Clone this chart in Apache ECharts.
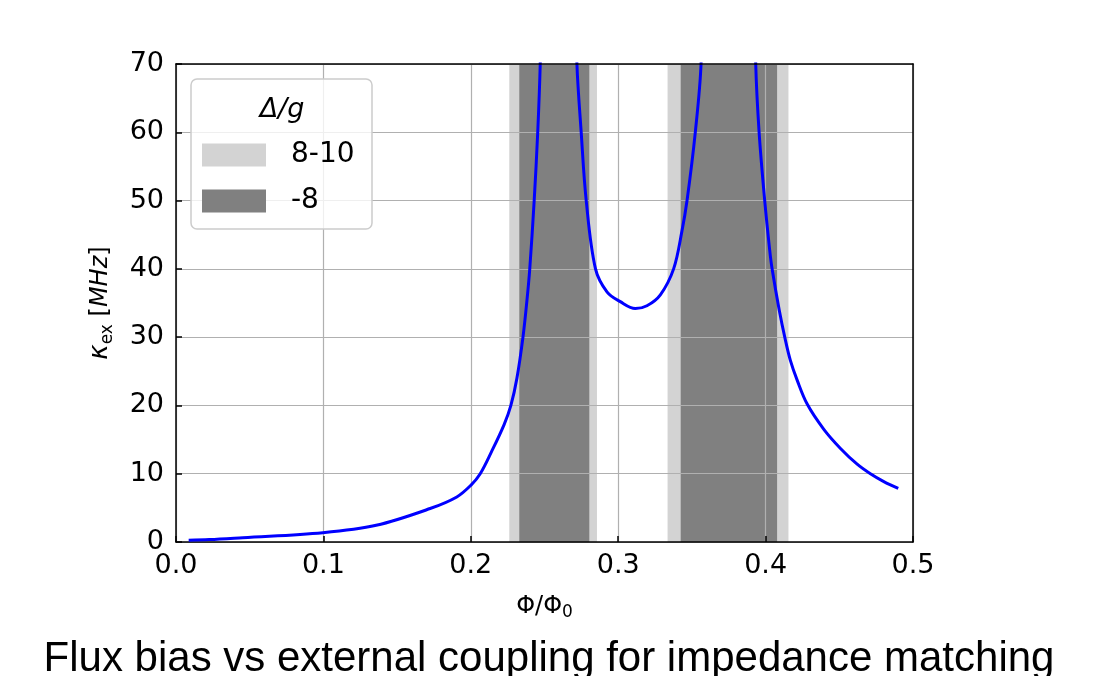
<!DOCTYPE html>
<html>
<head>
<meta charset="utf-8">
<script src="https://cdn.jsdelivr.net/npm/echarts@6/dist/echarts.min.js"></script>
<style>html,body{margin:0;padding:0;background:#fff;}#c{width:1094px;height:676px;}</style>
</head>
<body>
<div id="c"></div>
<script>
// Curve: flux bias (Φ/Φ0) vs κ_ex (MHz); values above 70 only carry the line off the top edge
const curveX = [0.0086,0.0226,0.0453,0.0996,0.1358,0.1724,0.1905,0.2000,0.2064,0.2140,0.2226,0.2272,0.2313,0.2354,0.2381,0.2400,0.2430,0.2454,0.2471,0.2490,
                0.2700,0.2720,0.2749,0.2783,0.2846,0.2925,0.3014,0.3116,0.3195,0.3286,0.3376,0.3433,0.3467,0.3523,0.3562,0.3578,
                0.3918,0.3933,0.3956,0.3994,0.4028,0.4044,0.4093,0.4134,0.4168,0.4214,0.4282,0.4395,0.4508,0.4621,0.4711,0.4802,0.4900];
const curveY = [0.25,0.35,0.64,1.37,2.45,4.9,6.6,8.3,10,13.2,17.2,20,24.0,30,35.4,40,50,60,70,90,
                90,70,60,50,40,36.6,35.2,34.2,34.6,36.2,40,45.6,50,60,70,90,
                90,70,60,50,42.7,40,33.9,29.6,26.6,23.7,20.2,16.5,13.7,11.4,10,8.85,7.85];
// Δ/g bands
const lightBands = [[0.2261,0.2856],[0.3335,0.4155]];   // 8-10
const darkBands  = [[0.2329,0.2804],[0.3424,0.4078]];   // -8
const xTicks = [0.0,0.1,0.2,0.3,0.4,0.5];
const yTicks = [0,10,20,30,40,50,60,70];
const legendNames = ['8-10','-8'];

const FONT = 'DejaVu Sans';
const chart = echarts.init(document.getElementById('c'));
const curve = curveX.map((x,i)=>[x,curveY[i]]);
const toArea = b => b.map(([a,c])=>[{xAxis:a},{xAxis:c}]);

chart.setOption({
  animation:false,
  backgroundColor:'#fff',
  grid:{left:176, top:64, width:737, height:478, show:false},
  xAxis:[{
    type:'value', min:xTicks[0], max:xTicks[xTicks.length-1], interval:0.1, z:3,
    name:'{a|Φ/Φ}{b|0}', nameLocation:'middle', nameGap:50,
    nameTextStyle:{fontFamily:FONT,fontSize:24,color:'#000',
      rich:{a:{fontFamily:FONT,fontSize:24,color:'#000'},b:{fontFamily:FONT,fontSize:17,color:'#000',padding:[12,0,0,0]}}},
    axisLine:{show:true,lineStyle:{color:'#000',width:1.5}},
    axisTick:{show:true,inside:true,length:6,lineStyle:{color:'#000',width:1.5}},
    axisLabel:{fontFamily:FONT,fontSize:27,color:'#000',margin:10,formatter:v=>v.toFixed(1)},
    splitLine:{show:true,lineStyle:{color:'#b0b0b0',width:1.2}}
  },{
    type:'value', position:'top', min:0, max:1, z:6,
    axisLine:{show:true,onZero:false,lineStyle:{color:'#000',width:1.5}},
    axisTick:{show:false}, axisLabel:{show:false}, splitLine:{show:false}
  }],
  yAxis:[{
    type:'value', min:yTicks[0], max:yTicks[yTicks.length-1], interval:10, z:3,
    name:'{a|κ}{b|ex} [{c|MHz}]', nameLocation:'middle', nameGap:60,
    nameTextStyle:{fontFamily:FONT,fontSize:24,color:'#000',
      rich:{a:{fontFamily:FONT,fontSize:26,fontStyle:'italic',color:'#000'},
            b:{fontFamily:FONT,fontSize:17,color:'#000',padding:[14,0,0,0]},
            c:{fontFamily:FONT,fontSize:24,fontStyle:'italic',color:'#000'}}},
    axisLine:{show:true,lineStyle:{color:'#000',width:1.5}},
    axisTick:{show:true,inside:true,length:6,lineStyle:{color:'#000',width:1.5}},
    axisLabel:{fontFamily:FONT,fontSize:27,color:'#000',margin:12},
    splitLine:{show:true,lineStyle:{color:'#b0b0b0',width:1.2}}
  },{
    type:'value', position:'right', min:0, max:1, z:6,
    axisLine:{show:true,onZero:false,lineStyle:{color:'#000',width:1.5}},
    axisTick:{show:false}, axisLabel:{show:false}, splitLine:{show:false}
  }],
  legend:{
    data:legendNames.map(n=>({name:n,icon:'rect'})),
    orient:'vertical', left:202, top:141, padding:0, itemWidth:64, itemHeight:23, itemGap:18, z:8,
    selectedMode:false,
    textStyle:{fontFamily:FONT,fontSize:28,color:'#000',padding:[0,0,0,20]}
  },
  graphic:[
    {type:'rect', z:7, shape:{x:191,y:79,width:181,height:150,r:6},
     style:{fill:'rgba(255,255,255,0.8)',stroke:'#cccccc',lineWidth:1.5}},
    {type:'text', z:8, x:282, y:110, style:{text:'Δ/g',font:'italic 27px "DejaVu Sans"',fill:'#000',align:'center',verticalAlign:'middle'}},
    {type:'text', z:8, x:549, y:659, style:{text:'Flux bias vs external coupling for impedance matching',font:'42px "Liberation Sans"',fill:'#000',align:'center',verticalAlign:'middle'}}
  ],
  series:[
    {name:legendNames[0], type:'line', data:[], z:1, itemStyle:{color:'#d3d3d3'}, silent:true,
     markArea:{silent:true, itemStyle:{color:'#d3d3d3',opacity:1}, data:toArea(lightBands)}},
    {name:legendNames[1], type:'line', data:[], z:1, itemStyle:{color:'#808080'}, silent:true,
     markArea:{silent:true, itemStyle:{color:'#808080',opacity:1}, data:toArea(darkBands)}},
    {name:'curve', type:'line', data:curve, z:5, showSymbol:false, symbol:'none', clip:true,
     smooth:0.35, lineStyle:{color:'#0000ff',width:3}}
  ]
});
</script>
</body>
</html>
